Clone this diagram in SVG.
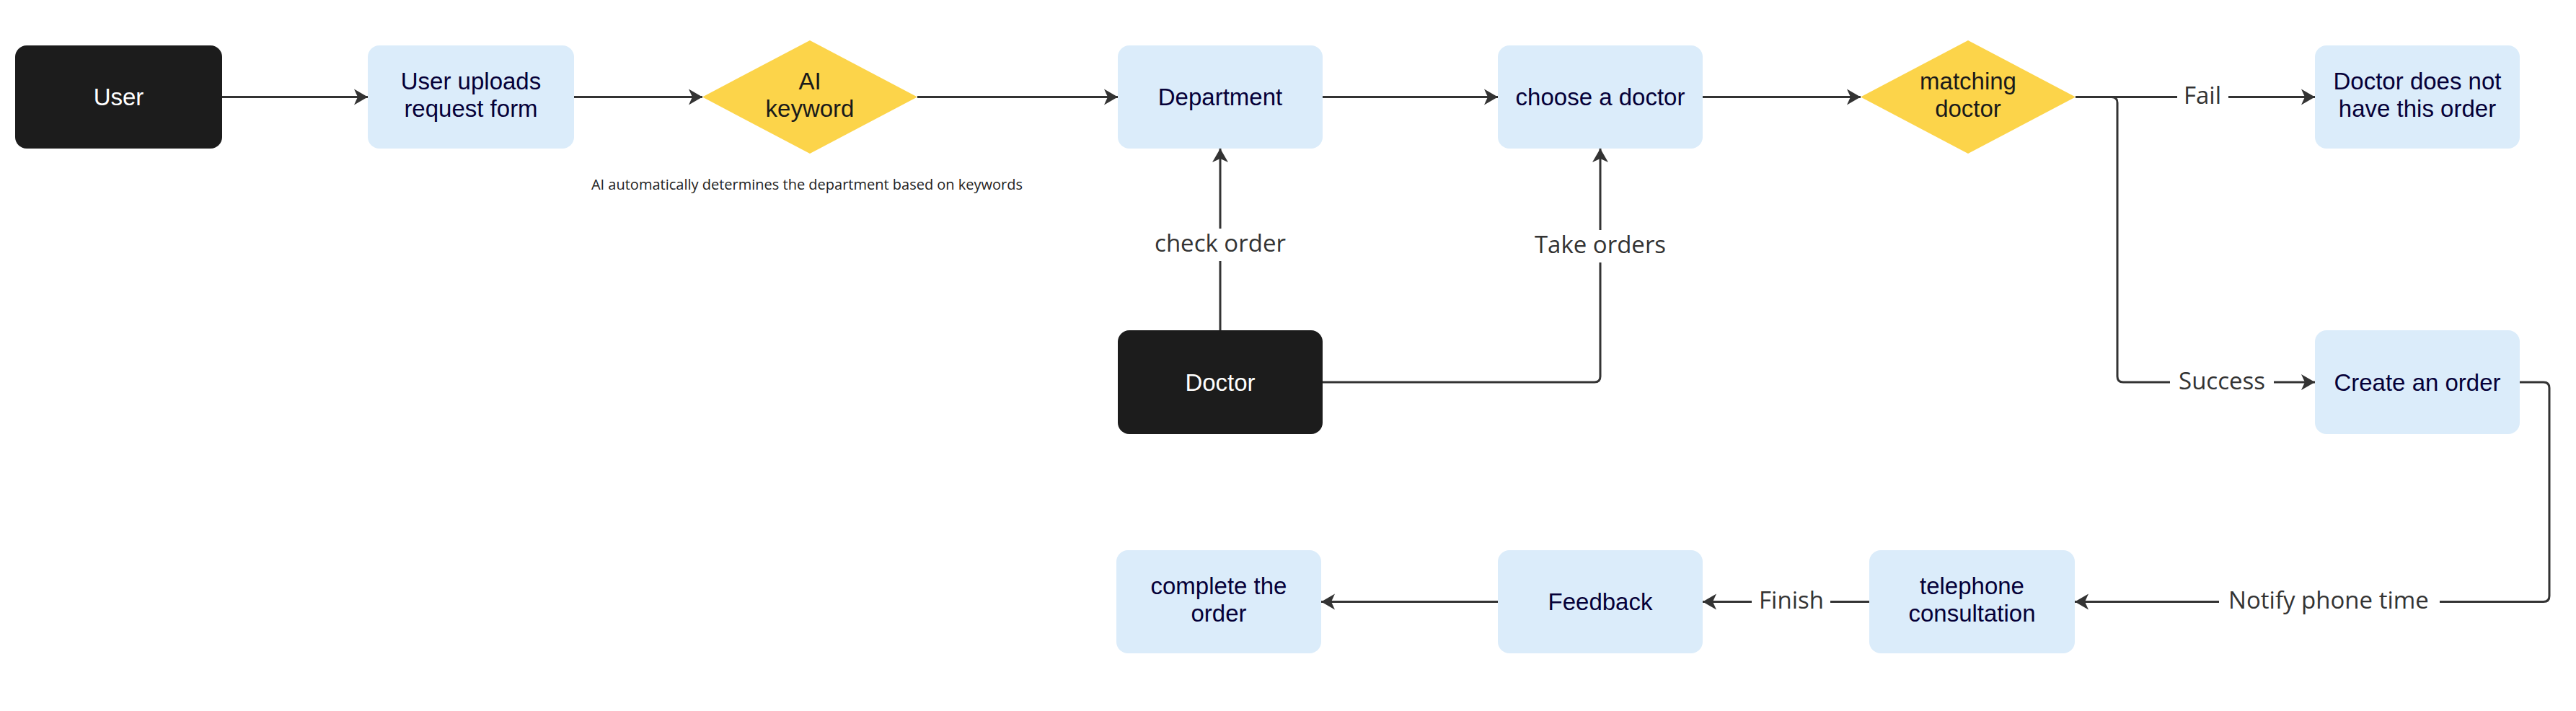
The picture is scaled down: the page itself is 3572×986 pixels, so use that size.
<svg xmlns="http://www.w3.org/2000/svg" width="3572" height="986" viewBox="0 0 3572 986">
<style>
.bg{fill:#ffffff}
.dark rect{fill:#1c1c1c}
.blue rect{fill:#dbecfa}
.dia polygon{fill:#fcd44a}
.nt{font-family:"Liberation Sans",Arial,sans-serif;font-size:33px;text-anchor:middle}
.dark .nt{fill:#ffffff}
.blue .nt{fill:#050038}
.dia .nt{fill:#1a1a1a}
.edge{fill:none;stroke:#333333;stroke-width:3}
.lbl{font-family:"Open Sans","Noto Sans",sans-serif;font-size:33px;fill:#333333;text-anchor:middle}
.lblbg{fill:#ffffff}
.note{font-family:"Open Sans","Noto Sans",sans-serif;font-size:20px;fill:#222222;text-anchor:middle}
</style>
<defs>
<marker id="arr" markerUnits="userSpaceOnUse" markerWidth="20" markerHeight="24" viewBox="0 0 20 24" refX="19" refY="12" orient="auto">
<path d="M0,1 L19,12 L0,23 L5,12 Z" fill="#333333"/>
</marker>
</defs>
<rect class="bg" x="0" y="0" width="3572" height="986"/>

<g id="connectors">
<path class="edge" d="M308,134.5 H510" marker-end="url(#arr)"/>
<path class="edge" d="M796,134.5 H974" marker-end="url(#arr)"/>
<path class="edge" d="M1272,134.5 H1550" marker-end="url(#arr)"/>
<path class="edge" d="M1834,134.5 H2077" marker-end="url(#arr)"/>
<path class="edge" d="M2361,134.5 H2580" marker-end="url(#arr)"/>
<path class="edge" d="M2878,134.5 H3210" marker-end="url(#arr)"/>
<path class="edge" d="M2878,134.5 H2928 Q2936,134.5 2936,142.5 V522 Q2936,530 2944,530 H3210" marker-end="url(#arr)"/>
<path class="edge" d="M1692,458 V206" marker-end="url(#arr)"/>
<path class="edge" d="M1834,530 H2211 Q2219,530 2219,522 V206" marker-end="url(#arr)"/>
<path class="edge" d="M3494,530 H3527 Q3535,530 3535,538 V826.5 Q3535,834.5 3527,834.5 H2877" marker-end="url(#arr)"/>
<path class="edge" d="M2592,834.5 H2361" marker-end="url(#arr)"/>
<path class="edge" d="M2077,834.5 H1832" marker-end="url(#arr)"/>
<rect class="lblbg" x="3019" y="114" width="71" height="42"/>
<text class="lbl" x="3054" y="144">Fail</text>
<rect class="lblbg" x="3009" y="509" width="144" height="42"/>
<text class="lbl" x="3081" y="540">Success</text>
<rect class="lblbg" x="1588" y="317" width="208" height="45"/>
<text class="lbl" x="1692" y="349">check order</text>
<rect class="lblbg" x="2113" y="319" width="212" height="45"/>
<text class="lbl" x="2219" y="351">Take orders</text>
<rect class="lblbg" x="3077" y="813" width="306" height="42"/>
<text class="lbl" x="3229" y="844">Notify phone time</text>
<rect class="lblbg" x="2429" y="813" width="109" height="42"/>
<text class="lbl" x="2484" y="844">Finish</text>
</g>

<g id="node-user" class="dark">
<rect x="21" y="63" width="287" height="143" rx="16"/>
<text class="nt" x="164.5" y="146">User</text>
</g>
<g id="node-upload" class="blue">
<rect x="510" y="63" width="286" height="143" rx="16"/>
<text class="nt" x="653" y="123.5">User uploads</text>
<text class="nt" x="653" y="161.5">request form</text>
</g>
<g id="node-ai" class="dia">
<polygon points="974,134.5 1123,56 1272,134.5 1123,213"/>
<text class="nt" x="1123" y="123.5">AI</text>
<text class="nt" x="1123" y="161.5">keyword</text>
</g>
<text id="note-ai" class="note" x="1119" y="263">AI automatically determines the department based on keywords</text>
<g id="node-department" class="blue">
<rect x="1550" y="63" width="284" height="143" rx="16"/>
<text class="nt" x="1692" y="146">Department</text>
</g>
<g id="node-choose" class="blue">
<rect x="2077" y="63" width="284" height="143" rx="16"/>
<text class="nt" x="2219" y="146">choose a doctor</text>
</g>
<g id="node-matching" class="dia">
<polygon points="2580,134.5 2729,56 2878,134.5 2729,213"/>
<text class="nt" x="2729" y="123.5">matching</text>
<text class="nt" x="2729" y="161.5">doctor</text>
</g>
<g id="node-noorder" class="blue">
<rect x="3210" y="63" width="284" height="143" rx="16"/>
<text class="nt" x="3352" y="123.5">Doctor does not</text>
<text class="nt" x="3352" y="161.5">have this order</text>
</g>
<g id="node-doctor" class="dark">
<rect x="1550" y="458" width="284" height="144" rx="16"/>
<text class="nt" x="1692" y="541.5">Doctor</text>
</g>
<g id="node-create" class="blue">
<rect x="3210" y="458" width="284" height="144" rx="16"/>
<text class="nt" x="3352" y="541.5">Create an order</text>
</g>
<g id="node-telephone" class="blue">
<rect x="2592" y="763" width="285" height="143" rx="16"/>
<text class="nt" x="2734.5" y="823.5">telephone</text>
<text class="nt" x="2734.5" y="861.5">consultation</text>
</g>
<g id="node-feedback" class="blue">
<rect x="2077" y="763" width="284" height="143" rx="16"/>
<text class="nt" x="2219" y="846">Feedback</text>
</g>
<g id="node-complete" class="blue">
<rect x="1548" y="763" width="284" height="143" rx="16"/>
<text class="nt" x="1690" y="823.5">complete the</text>
<text class="nt" x="1690" y="861.5">order</text>
</g>
</svg>
